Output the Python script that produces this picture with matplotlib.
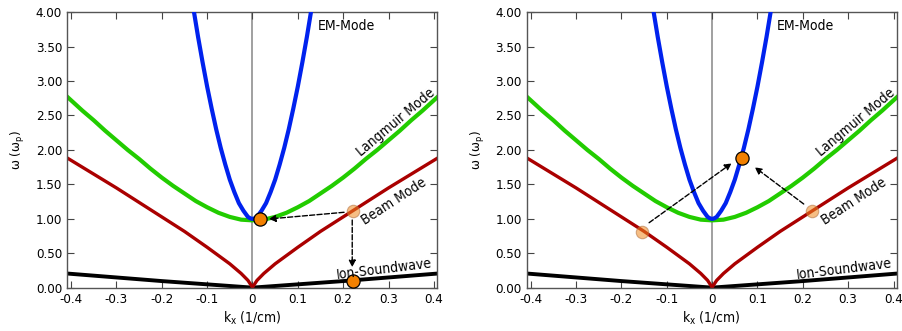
import matplotlib
matplotlib.use('Agg')
import matplotlib.pyplot as plt

plt.rcParams['font.family'] = ['DejaVu Sans']
plt.rcParams['font.stretch'] = 'condensed'
plt.rcParams['mathtext.fontset'] = 'dejavusans'

# EM mode (blue)
em_k = [-0.14, -0.13, -0.12, -0.11, -0.10, -0.09, -0.08, -0.07, -0.06, -0.05, -0.04, -0.03, -0.02, -0.01, -0.005,
        0.0, 0.005, 0.01, 0.02, 0.03, 0.04, 0.05, 0.06, 0.07, 0.08, 0.09, 0.10, 0.11, 0.12, 0.13, 0.14]
em_w = [4.46, 4.04, 3.64, 3.27, 2.92, 2.60, 2.30, 2.03, 1.79, 1.57, 1.39, 1.23, 1.12, 1.03, 1.01,
        1.00, 1.01, 1.03, 1.12, 1.23, 1.39, 1.57, 1.79, 2.03, 2.30, 2.60, 2.92, 3.27, 3.64, 4.04, 4.46]

# Langmuir mode (green)
lm_k = [-0.41, -0.4, -0.375, -0.35, -0.325, -0.3, -0.275, -0.25, -0.225, -0.2, -0.175, -0.15, -0.125, -0.1,
        -0.075, -0.05, -0.025, 0.0, 0.025, 0.05, 0.075, 0.1, 0.125, 0.15, 0.175, 0.2, 0.225, 0.25, 0.275,
        0.3, 0.325, 0.35, 0.375, 0.4, 0.41]
lm_w = [2.78, 2.72, 2.57, 2.43, 2.28, 2.14, 2.00, 1.87, 1.73, 1.60, 1.48, 1.37, 1.26, 1.17,
        1.09, 1.03, 0.99, 0.98, 0.99, 1.03, 1.09, 1.17, 1.26, 1.37, 1.48, 1.60, 1.73, 1.87, 2.00,
        2.14, 2.28, 2.43, 2.57, 2.72, 2.78]

# Beam mode (dark red)
bm_k = [-0.41, -0.4, -0.35, -0.3, -0.25, -0.2, -0.15, -0.1, -0.075, -0.05, -0.025, -0.01, 0.0,
        0.01, 0.025, 0.05, 0.075, 0.1, 0.15, 0.2, 0.25, 0.3, 0.35, 0.4, 0.41]
bm_w = [1.89, 1.85, 1.65, 1.45, 1.24, 1.03, 0.82, 0.59, 0.47, 0.35, 0.21, 0.11, 0.01,
        0.11, 0.21, 0.35, 0.47, 0.59, 0.82, 1.03, 1.24, 1.45, 1.65, 1.85, 1.89]

# Ion sound wave (black)
ia_k = [-0.41, -0.2, 0.0, 0.2, 0.41]
ia_w = [0.21, 0.10, 0.005, 0.10, 0.21]

# markers per panel: (k, omega)
left_solid = [(0.016, 1.0), (0.222, 0.10)]
left_faded = [(0.222, 1.116)]
left_arrows = [((0.202, 1.097), (0.036, 1.0)), ((0.220, 0.985), (0.220, 0.30))]

right_solid = [(0.065, 1.88)]
right_faded = [(-0.155, 0.807), (0.221, 1.12)]
right_arrows = [((-0.139, 0.946), (0.043, 1.807)), ((0.202, 1.217), (0.094, 1.75))]

labels = [("EM-Mode", 0.143, 3.80, 0, 'left'),
          ("Langmuir Mode", 0.316, 2.40, 40, 'center'),
          ("Beam Mode", 0.312, 1.25, 33, 'center'),
          ("Ion-Soundwave", 0.29, 0.27, 7, 'center')]

yticks = [0, 0.5, 1, 1.5, 2, 2.5, 3, 3.5, 4]
xticks = [-0.4, -0.3, -0.2, -0.1, 0, 0.1, 0.2, 0.3, 0.4]
xticklabels = ['-0.4', '-0.3', '-0.2', '-0.1', '0', '0.1', '0.2', '0.3', '0.4']

fig = plt.figure(figsize=(9.02, 3.31), dpi=100)
ax1 = fig.add_axes([0.0743, 0.130, 0.4102, 0.8337])
ax2 = fig.add_axes([0.5839, 0.130, 0.4102, 0.8337])

def draw_panel(ax, solid, faded, arrows):
    ax.axvline(0, color='#999999', linewidth=1.3, zorder=1)
    ax.plot(ia_k, ia_w, color='black', linewidth=2.8, zorder=2)
    ax.plot(bm_k, bm_w, color='#aa0000', linewidth=2.4, zorder=2)
    ax.plot(lm_k, lm_w, color='#22cc00', linewidth=3.0, zorder=2)
    ax.plot(em_k, em_w, color='#0022ee', linewidth=3.0, zorder=3)
    for (start, end) in arrows:
        ax.annotate('', xy=end, xytext=start,
                    arrowprops=dict(arrowstyle='-|>', linestyle='--', color='black',
                                    linewidth=1.0, mutation_scale=10, shrinkA=0, shrinkB=0),
                    zorder=4)
    for (k, w) in faded:
        ax.plot(k, w, 'o', markersize=9, markerfacecolor='#f08a20', markeredgecolor='#b07040',
                markeredgewidth=0.8, alpha=0.55, zorder=5)
    for (k, w) in solid:
        ax.plot(k, w, 'o', markersize=9.5, markerfacecolor='#f28000', markeredgecolor='black',
                markeredgewidth=0.9, zorder=6)
    for (txt, k, w, rot, ha) in labels:
        ax.text(k, w, txt, fontsize=10, rotation=rot, ha=ha, va='center',
                rotation_mode='anchor', zorder=7)
    ax.set_xlim(-0.409, 0.407)
    ax.set_ylim(0, 4)
    ax.set_xticks(xticks)
    ax.set_xticklabels(xticklabels)
    ax.set_yticks(yticks)
    ax.set_yticklabels(['%.2f' % v for v in yticks])
    ax.tick_params(direction='in', top=True, right=True, length=5, width=0.8,
                   color='#444444', labelsize=9.5)
    for s in ax.spines.values():
        s.set_color('#555555')
        s.set_linewidth(1.0)
    ax.set_xlabel('k$_\\mathregular{x}$ (1/cm)', fontsize=10, labelpad=3)
    ax.set_ylabel('ω (ω$_\\mathregular{p}$)', fontsize=9.5, labelpad=6)

draw_panel(ax1, left_solid, left_faded, left_arrows)
draw_panel(ax2, right_solid, right_faded, right_arrows)

plt.savefig('out.png', dpi=100)
